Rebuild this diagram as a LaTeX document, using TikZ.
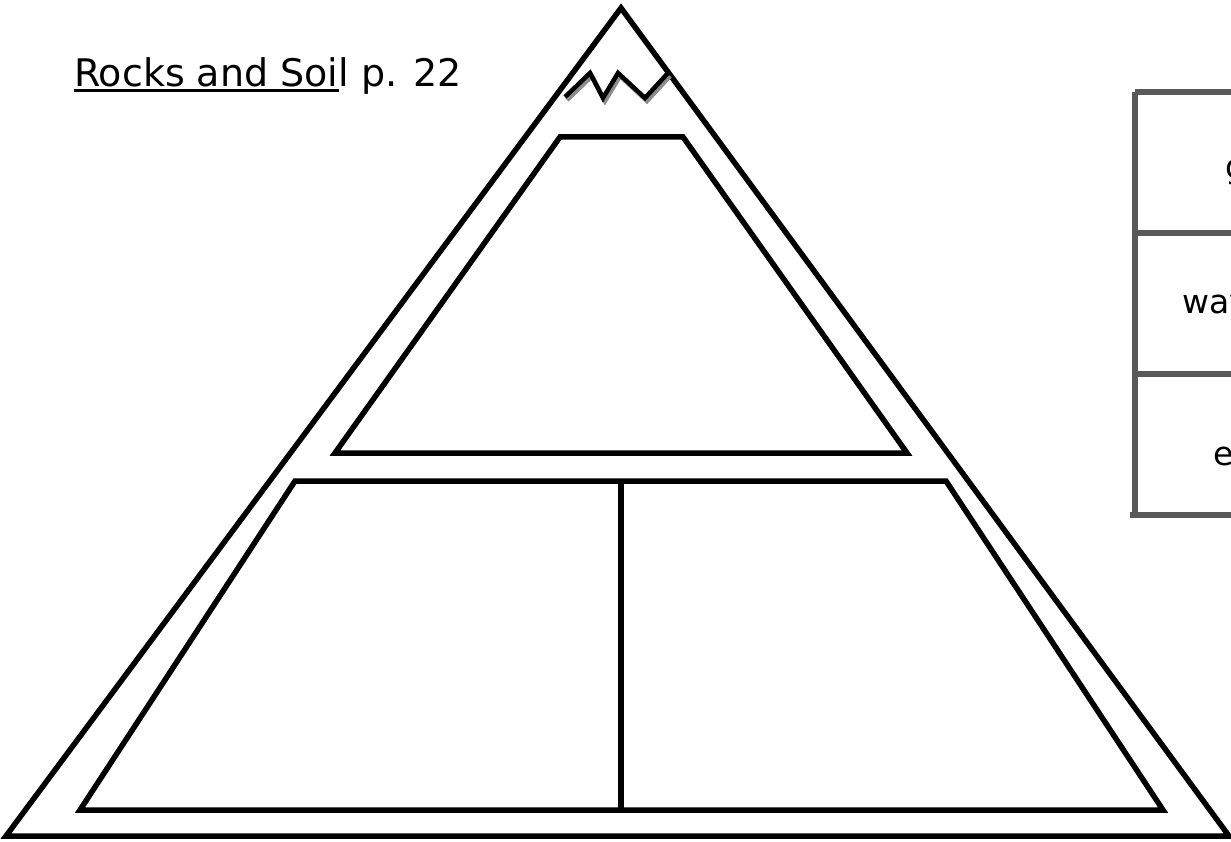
\documentclass[tikz,border=0pt]{standalone}
\usepackage{fontspec}
\setmainfont{DejaVu Sans}
\definecolor{tablegrey}{HTML}{595959}
\definecolor{shadowgrey}{HTML}{8C8C8C}
\begin{document}
\begin{tikzpicture}[x=1pt,y=-1pt,
  outl/.style={draw=black,line width=5.5pt,line join=miter},
  tline/.style={draw=tablegrey,line width=5.5pt},
  title/.style={inner sep=0pt,font=\fontsize{38}{42}\selectfont},
  celltext/.style={inner sep=0pt,anchor=base west,font=\fontsize{33}{37}\selectfont}]
\useasboundingbox (0,0) rectangle (1231,842);
\clip (0,0) rectangle (1231,842);
\fill[white] (0,0) rectangle (1231,842);
% outer triangle
\draw[outl] (621,8) -- (1229,836) -- (6,836) -- cycle;
% upper trapezoid
\draw[outl] (560,137) -- (683,137) -- (907,453) -- (335,453) -- cycle;
% lower trapezoid with divider
\draw[outl] (295,481) -- (946,481) -- (1163,810) -- (80,810) -- cycle;
\draw[outl] (621,481) -- (621,812);
% zigzag with shadow
\draw[draw=shadowgrey,line width=4.5pt,line join=miter] (567,100) -- (592,76) -- (605,101) -- (620,76) -- (647,101) -- (670,76);
\draw[outl,line width=4.5pt] (565,97) -- (590,73) -- (603,98) -- (618,73) -- (645,98) -- (668,73);
% title
\node[title,anchor=base west] (t1) at (74,87) {Rocks and Soi};
\node[title,anchor=base west] (t2) at (t1.base east) {l p. 22};
\draw[line width=2.5pt] ([yshift=-3.5pt]t1.base west) -- ([yshift=-3.5pt]t1.base east);
% table on the right
\draw[tline] (1135,92) -- (1135,515);
\draw[tline] (1135,92) -- (1240,92);
\draw[tline] (1135,233) -- (1240,233);
\draw[tline] (1135,374) -- (1240,374);
\draw[tline] (1130,515) -- (1240,515);
\node[celltext] (c1) at (1225,179) {g};
\node[celltext] (c2) at (1182,313) {way};
\node[celltext] (c3) at (1213,465) {e};
\end{tikzpicture}
\end{document}
